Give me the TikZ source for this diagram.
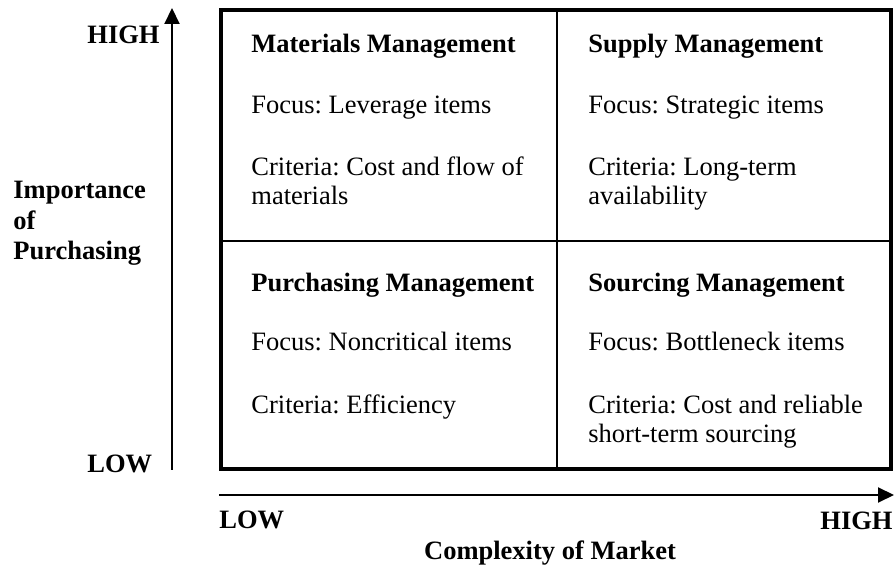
\documentclass[tikz,border=0pt]{standalone}
\usepackage{fontspec}
\setmainfont{Liberation Serif}
\usepackage{tikz}
\usetikzlibrary{positioning, calc, arrows.meta}
\frenchspacing

\tikzset{
  quadtitle/.style={anchor=base west, inner sep=0pt, font=\fontsize{13.25}{16}\selectfont\bfseries},
  quadtext/.style={anchor=base west, inner sep=0pt, font=\fontsize{13.25}{16}\selectfont},
  axislabel/.style={inner sep=0pt, font=\fontsize{13.25}{16}\selectfont\bfseries},
  axis/.style={line width=1pt, -{Triangle[length=8pt, width=7.5pt]}}
}

\begin{document}
\begin{tikzpicture}[x=0.5pt, y=-0.5pt]
        \useasboundingbox (0,0) rectangle (895,566);

        \coordinate (lt) at (221,10);
        \coordinate (rt) at (891,10);
        \coordinate (lb) at (221,469);
        \coordinate (rb) at (891,469);

        \coordinate (mt) at (557,10);
        \coordinate (mb) at (557,469);
        \coordinate (ml) at (221,241);
        \coordinate (mr) at (891,241);

        \coordinate (vlow) at (172,470);
        \coordinate (vhigh) at (172,8);
        \coordinate (hlow) at (219,495);
        \coordinate (hhigh) at (894,495);

        \draw[line width=0.8pt] (mt) -- (mb);   %middle vertical
        \draw[line width=0.8pt] (ml) -- (mr);   %middle horizontal
        \draw[line width=2.2pt] (lt) rectangle (rb);   %outer

        \draw[axis] (vlow) -- (vhigh);   %importance
        \draw[axis] (hlow) -- (hhigh);   %complexity

        % top left
        \node[quadtitle] (matTitle) at (251,53) {Materials Management};
        \node[quadtext] (matFocus) at (251,114) {Focus: Leverage items};
        \node[quadtext] (matCrit) at (251,176) {Criteria: Cost and flow of};
        \node[quadtext] (matCritB) at (251,205) {materials};

        % top right
        \node[quadtitle] (supTitle) at (588,53) {Supply Management};
        \node[quadtext] (supFocus) at (588,114) {Focus: Strategic items};
        \node[quadtext] (supCrit) at (588,176) {Criteria: Long-term};
        \node[quadtext] (supCritB) at (588,205) {availability};

        % bottom left
        \node[quadtitle] (purTitle) at (251,292) {Purchasing Management};
        \node[quadtext] (purFocus) at (251,351) {Focus: Noncritical items};
        \node[quadtext] (purCrit) at (251,414) {Criteria: Efficiency};

        % bottom right
        \node[quadtitle] (souTitle) at (588,292) {Sourcing Management};
        \node[quadtext] (souFocus) at (588,351) {Focus: Bottleneck items};
        \node[quadtext] (souCrit) at (588,414) {Criteria: Cost and reliable};
        \node[quadtext] (souCritB) at (588,443) {short-term sourcing};

        % axis labels
        \node[axislabel, anchor=base west] (vHighLbl) at (87,44) {HIGH};
        \node[axislabel, anchor=base west] (vLowLbl) at (87,473) {LOW};
        \node[axislabel, anchor=base west] (impA) at (13,199) {Importance};
        \node[axislabel, anchor=base west] (impB) at (13,230) {of};
        \node[axislabel, anchor=base west] (impC) at (13,260) {Purchasing};

        \node[axislabel, anchor=base west] (hLowLbl) at (219,529) {LOW};
        \node[axislabel, anchor=base east] (hHighLbl) at (893,530) {HIGH};
        \node[axislabel, anchor=base] (cplx) at (550,560) {Complexity of Market};
      \end{tikzpicture}
\end{document}
